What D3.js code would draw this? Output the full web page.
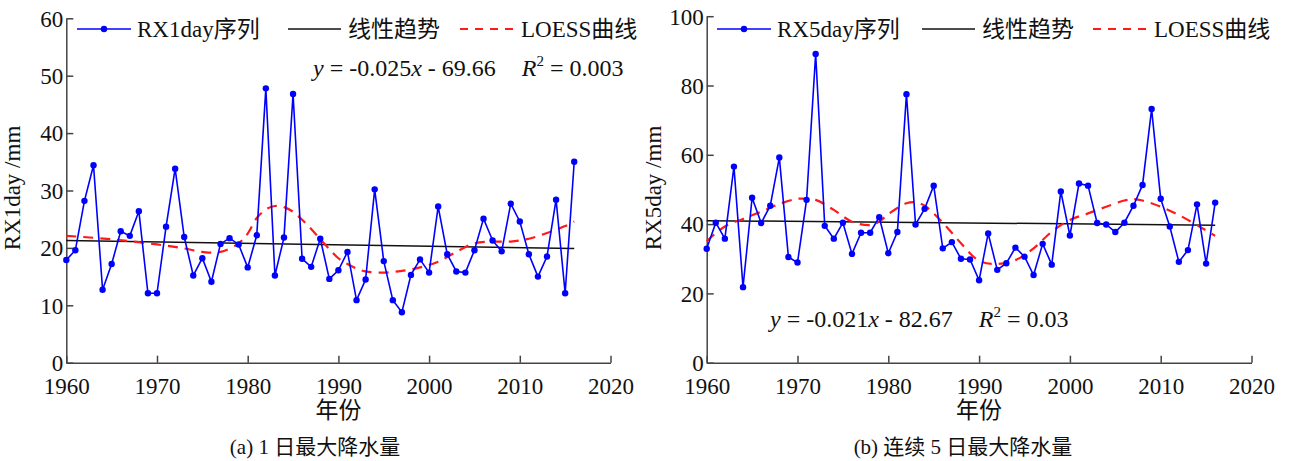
<!DOCTYPE html>
<html lang="zh">
  <head>
    <meta charset="UTF-8" />
    <title>RX1day / RX5day</title>
    <style>
      body { margin: 0; background: #fff; }
      text { font-family: "Liberation Serif", "Times New Roman", "DejaVu Serif", "Noto Sans CJK SC", serif; fill: #111; }
    </style>
  </head>
  <body>
    <svg id="svg" width="1290" height="461"></svg>

    <script src="https://cdn.jsdelivr.net/npm/d3@7"></script>
    <script>
      const WIDTH = 1290;
      const HEIGHT = 461;
      const FONT = '"Liberation Serif", "Times New Roman", "Noto Sans CJK SC", serif';

      const YEARS = d3.range(1960, 2017);
      const X_TICKS = [1960, 1970, 1980, 1990, 2000, 2010, 2020];

      // (a) RX1day, mm
      const RX1DAY = [
        17.9, 19.6, 28.2, 34.4, 12.7, 17.2, 22.9, 22.1, 26.4, 12.1,
        12.1, 23.7, 33.8, 21.9, 15.2, 18.2, 14.1, 20.7, 21.7, 20.6,
        16.6, 22.2, 47.8, 15.2, 21.8, 46.8, 18.1, 16.7, 21.6, 14.6,
        16.1, 19.3, 10.9, 14.5, 30.2, 17.7, 10.9, 8.8, 15.3, 18.0,
        15.7, 27.2, 18.9, 15.9, 15.7, 19.6, 25.1, 21.3, 19.4, 27.7,
        24.6, 18.9, 15.0, 18.5, 28.4, 12.1, 35.0,
      ];
      const TREND_A_YEARS = [1960, 2016];
      const TREND_A = [21.3, 19.9];
      const LOESS_A_YEARS = [1960, 1965, 1970, 1973, 1975, 1977, 1979, 1980, 1981, 1982,
        1983, 1984, 1985, 1986, 1987, 1988, 1989, 1990, 1991, 1992, 1993, 1995, 1997,
        1999, 2001, 2003, 2005, 2007, 2009, 2011, 2013, 2015, 2016];
      const LOESS_A = [22.1, 21.5, 20.6, 19.9, 19.3, 19.3, 20.8, 22.5, 25.2, 26.7,
        27.3, 27.1, 26.3, 24.9, 23.3, 21.5, 19.8, 18.2, 17.2, 16.4, 15.9, 15.7, 16.0,
        16.6, 17.6, 19.3, 20.8, 21.1, 21.1, 21.6, 22.6, 23.8, 24.6];
      const Y_TICKS_A = [0, 10, 20, 30, 40, 50, 60];

      // (b) RX5day, mm
      const RX5DAY = [
        32.9, 40.4, 35.8, 56.6, 21.8, 47.6, 40.3, 45.3, 59.2, 30.5,
        28.9, 47.0, 89.1, 39.5, 35.8, 40.4, 31.4, 37.5, 37.5, 42.0,
        31.6, 37.7, 77.5, 39.9, 44.4, 51.1, 33.0, 34.8, 30.0, 29.8,
        23.8, 37.3, 26.8, 28.7, 33.2, 30.6, 25.3, 34.3, 28.3, 49.4,
        36.7, 51.7, 51.1, 40.3, 39.9, 37.7, 40.4, 45.3, 51.3, 73.2,
        47.3, 39.3, 29.1, 32.5, 45.7, 28.6, 46.2,
      ];
      const TREND_B_YEARS = [1960, 2016];
      const TREND_B = [41.0, 39.7];
      const LOESS_B_YEARS = [1960, 1962, 1964, 1966, 1968, 1970, 1971, 1972, 1974, 1976,
        1978, 1979, 1980, 1982, 1983, 1984, 1986, 1988, 1990, 1992, 1994, 1996, 1998,
        2000, 2002, 2004, 2006, 2007, 2008, 2010, 2012, 2014, 2016];
      const LOESS_B = [35.1, 39.3, 41.5, 43.6, 45.8, 47.3, 47.3, 47.0, 44.1, 40.7,
        39.7, 40.7, 42.9, 46.0, 46.3, 45.3, 40.4, 34.5, 29.4, 28.5, 29.6, 33.0, 37.8,
        41.2, 43.1, 45.0, 46.8, 47.2, 46.8, 45.0, 42.6, 39.7, 36.6];
      const Y_TICKS_B = [0, 20, 40, 60, 80, 100];

      const svg = d3.select("#svg");

      function drawPanel(cfg) {
        const x = d3.scaleLinear().domain([1960, 2020]).range([cfg.left, cfg.right]);
        const y = d3.scaleLinear().domain(cfg.yDomain).range([362.7, cfg.top]);
        const g = svg.append("g");

        // axes, ticks point inward
        const xAxis = d3.axisBottom(x).tickValues(X_TICKS).tickFormat(d3.format("d"))
          .tickSize(-7).tickSizeOuter(0).tickPadding(15);
        const gx = g.append("g").attr("transform", `translate(0, ${y(0)})`).call(xAxis);
        const yAxis = d3.axisLeft(y).tickValues(cfg.yTicks).tickSize(-7).tickSizeOuter(0).tickPadding(3);
        const gy = g.append("g").attr("transform", `translate(${cfg.left}, 0)`).call(yAxis);
        [gx, gy].forEach((a) => {
          a.attr("font-family", null);
          a.select(".domain").attr("stroke", "#444").attr("stroke-width", 1.5);
          a.selectAll(".tick line").attr("stroke", "#444").attr("stroke-width", 1.5);
          a.selectAll(".tick text").attr("font-size", 23).attr("fill", "#111")
            .style("font-family", FONT);
        });
        gy.selectAll(".tick text").attr("dy", "0.34em");
        gx.selectAll(".tick text").attr("dy", "0.72em");

        // trend line
        g.append("path")
          .attr("d", d3.line().x((d) => x(d[0])).y((d) => y(d[1]))(d3.zip(cfg.trendYears, cfg.trend)))
          .attr("fill", "none").attr("stroke", "#111").attr("stroke-width", 1.5);

        // LOESS
        g.append("path")
          .attr("d", d3.line().x((d) => x(d[0])).y((d) => y(d[1])).curve(d3.curveCatmullRom)(
            d3.zip(cfg.loessYears, cfg.loess)))
          .attr("fill", "none").attr("stroke", "#ff1a1a").attr("stroke-width", 2.2)
          .attr("stroke-dasharray", "10,7");

        // series
        const pts = d3.zip(YEARS, cfg.values);
        g.append("path")
          .attr("d", d3.line().x((d) => x(d[0])).y((d) => y(d[1]))(pts))
          .attr("fill", "none").attr("stroke", "#0000ff").attr("stroke-width", 1.6);
        g.selectAll("circle.pt").data(pts).join("circle")
          .attr("cx", (d) => x(d[0])).attr("cy", (d) => y(d[1])).attr("r", 3.2)
          .attr("fill", "#0000ff");

        // legend
        const ly = 29;
        const L = cfg.legend;
        g.append("line").attr("x1", L[0]).attr("x2", L[0] + 54).attr("y1", ly).attr("y2", ly)
          .attr("stroke", "#0000ff").attr("stroke-width", 1.6);
        g.append("circle").attr("cx", L[0] + 27).attr("cy", ly).attr("r", 3.2).attr("fill", "#0000ff");
        g.append("text").attr("x", L[0] + 60).attr("y", ly + 8).attr("font-size", 23).text(cfg.seriesName);
        g.append("line").attr("x1", L[1]).attr("x2", L[1] + 53).attr("y1", ly).attr("y2", ly)
          .attr("stroke", "#111").attr("stroke-width", 1.5);
        g.append("text").attr("x", L[1] + 60).attr("y", ly + 8).attr("font-size", 23).text("线性趋势");
        g.append("line").attr("x1", L[2]).attr("x2", L[2] + 54).attr("y1", ly).attr("y2", ly)
          .attr("stroke", "#ff1a1a").attr("stroke-width", 2.2).attr("stroke-dasharray", "8,7");
        g.append("text").attr("x", L[2] + 61).attr("y", ly + 8).attr("font-size", 23).text("LOESS曲线");

        // equation
        const eq = g.append("text").attr("x", cfg.eq[0]).attr("y", cfg.eq[1]).attr("font-size", 24);
        eq.append("tspan").attr("font-style", "italic").text("y");
        eq.append("tspan").text(` = ${cfg.slope}`);
        eq.append("tspan").attr("font-style", "italic").text("x");
        eq.append("tspan").text(` - ${cfg.intercept}`);
        eq.append("tspan").attr("dx", 26).attr("font-style", "italic").text("R");
        eq.append("tspan").attr("font-size", 15).attr("dy", -10).text("2");
        eq.append("tspan").attr("dy", 10).text(` = ${cfg.r2}`);

        // axis titles
        g.append("text")
          .attr("transform", `translate(${cfg.left - 46}, 188) rotate(-90)`)
          .attr("text-anchor", "middle").attr("font-size", 23).text(cfg.yTitle);
        g.append("text").attr("x", (cfg.left + cfg.right) / 2).attr("y", 418)
          .attr("text-anchor", "middle").attr("font-size", 23).text("年份");
        g.append("text").attr("x", cfg.captionX).attr("y", 454)
          .attr("text-anchor", "middle").attr("font-size", 21).text(cfg.caption);
      }

      drawPanel({
        left: 66.3, right: 610.5, top: 18.3, yDomain: [0, 60], yTicks: Y_TICKS_A,
        values: RX1DAY, trendYears: TREND_A_YEARS, trend: TREND_A,
        loessYears: LOESS_A_YEARS, loess: LOESS_A,
        legend: [77, 288, 460], seriesName: "RX1day序列",
        eq: [313, 76], slope: "-0.025", intercept: "69.66", r2: "0.003",
        yTitle: "RX1day /mm", caption: "(a) 1 日最大降水量", captionX: 315,
      });

      drawPanel({
        left: 706.7, right: 1251.5, top: 16.2, yDomain: [0, 100], yTicks: Y_TICKS_B,
        values: RX5DAY, trendYears: TREND_B_YEARS, trend: TREND_B,
        loessYears: LOESS_B_YEARS, loess: LOESS_B,
        legend: [717, 922, 1093], seriesName: "RX5day序列",
        eq: [770, 327], slope: "-0.021", intercept: "82.67", r2: "0.03",
        yTitle: "RX5day /mm", caption: "(b)  连续 5 日最大降水量", captionX: 963,
      });
    </script>
  </body>
</html>
